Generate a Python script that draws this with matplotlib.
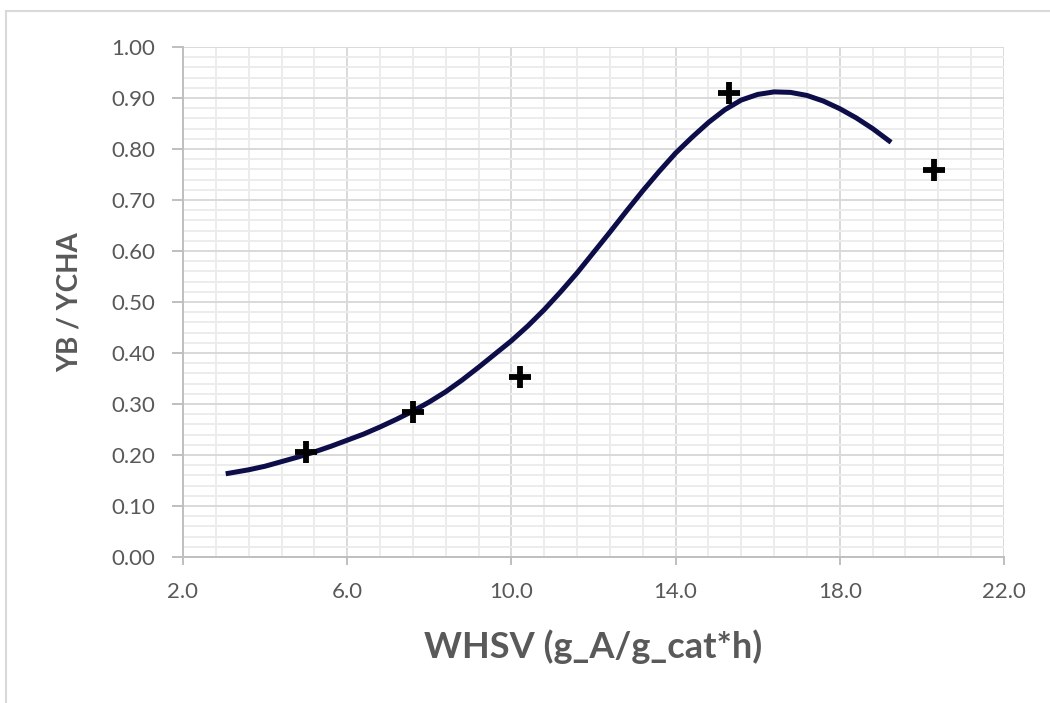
import numpy as np
import matplotlib.pyplot as plt
from matplotlib.ticker import FormatStrFormatter
from matplotlib.lines import Line2D

plt.rcParams['font.family'] = ['Lato', 'DejaVu Sans']

# measured points
whsv_exp = [5.0, 7.6, 10.2, 15.3, 20.3]
ratio_exp = [0.205, 0.284, 0.353, 0.910, 0.759]

# model curve
whsv_model = [3.1, 3.6, 4.0, 4.4, 4.8, 5.2, 5.6, 6.0, 6.4, 6.8, 7.2, 7.6, 8.0,
              8.4, 8.8, 9.2, 9.6, 10.0, 10.4, 10.8, 11.2, 11.6, 12.0, 12.4,
              12.8, 13.2, 13.6, 14.0, 14.4, 14.8, 15.2, 15.6, 16.0, 16.4, 16.8,
              17.2, 17.6, 18.0, 18.4, 18.8, 19.2]
ratio_model = [0.164, 0.171, 0.178, 0.187, 0.196, 0.206, 0.217, 0.229, 0.241,
               0.255, 0.270, 0.286, 0.304, 0.324, 0.347, 0.372, 0.398, 0.424,
               0.453, 0.485, 0.520, 0.557, 0.597, 0.637, 0.678, 0.718, 0.756,
               0.792, 0.823, 0.852, 0.877, 0.896, 0.907, 0.912, 0.911, 0.905,
               0.894, 0.879, 0.861, 0.840, 0.816]

x_major = [2, 6, 10, 14, 18, 22]
grey = '#595959'

fig = plt.figure(figsize=(10.5, 7.03), dpi=100)
ax = fig.add_axes([183 / 1050, 1 - 557 / 703, (1004 - 183) / 1050, (557 - 47) / 703])

ax.plot(whsv_model, ratio_model, color='#0d0d4a', lw=3.6, solid_joinstyle='round', zorder=3)
ax.plot(whsv_exp, ratio_exp, ls='none', marker='+', ms=16, mew=4.2, color='black', zorder=4)

ax.set_xlim(2, 22)
ax.set_ylim(0, 1)
ax.set_xticks(x_major)
ax.set_xticks(np.arange(2, 22.01, 0.8), minor=True)
ax.set_yticks(np.arange(0, 1.001, 0.1))
ax.set_yticks(np.arange(0, 1.001, 0.02), minor=True)
ax.xaxis.set_major_formatter(FormatStrFormatter('%.1f'))
ax.yaxis.set_major_formatter(FormatStrFormatter('%.2f'))

ax.grid(which='minor', color='#ececec', lw=1.4)
ax.grid(which='major', color='#d9d9d9', lw=1.4)
ax.set_axisbelow(True)

for s in ['top', 'right']:
    ax.spines[s].set_visible(False)
for s in ['left', 'bottom']:
    ax.spines[s].set_color('#bfbfbf')
    ax.spines[s].set_linewidth(1.4)

ax.tick_params(which='major', axis='y', length=8, width=1.4, color='#bfbfbf',
               labelsize=16, labelcolor=grey, pad=12)
ax.tick_params(which='major', axis='x', length=6, width=1.4, color='#bfbfbf',
               labelsize=16, labelcolor=grey, pad=12)
ax.tick_params(which='minor', length=0)

ax.set_xlabel('WHSV (g_A/g_cat*h)', fontsize=26, fontweight='bold', color=grey)
ax.set_ylabel('YB / YCHA', fontsize=20, fontweight='bold', color=grey)
ax.xaxis.set_label_coords(0.5, -0.176)
ax.yaxis.set_label_coords(-0.138, 0.5)
ax.xaxis.label.set_va('center')
ax.yaxis.label.set_va('center')

# chart area frame (top and left edges)
fig.add_artist(Line2D([6 / 1050, 1], [1 - 11 / 703] * 2, color='#d9d9d9', lw=1.5,
                      transform=fig.transFigure))
fig.add_artist(Line2D([6 / 1050] * 2, [0, 1 - 11 / 703], color='#d9d9d9', lw=1.5,
                      transform=fig.transFigure))

fig.savefig('out.png', dpi=100)
